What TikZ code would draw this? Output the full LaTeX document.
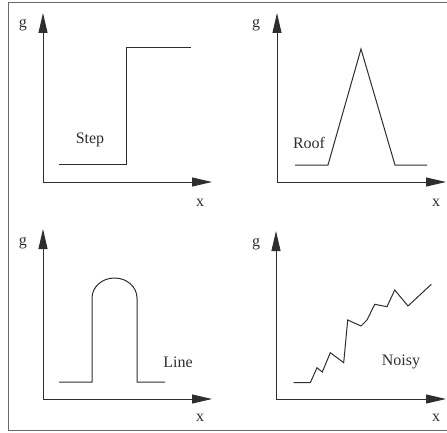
\documentclass[tikz,border=0pt]{standalone}
\usepackage{fontspec}
\setmainfont{Liberation Serif}
\usetikzlibrary{arrows.meta}
\definecolor{inkgray}{HTML}{2E2E2E}
\definecolor{framegray}{HTML}{6A6A6A}
\tikzset{
    axis/.style={draw=inkgray, line width=1pt, {Triangle[length=20pt,width=9pt]}-{Triangle[length=20pt,width=9pt]}},
    curve/.style={draw=inkgray, line width=1pt, line join=miter},
    lbl/.style={inner sep=0pt, text=inkgray, font=\fontsize{16}{19}\selectfont}
}
\begin{document}
\begin{tikzpicture}[x=1pt, y=1pt]
    \useasboundingbox (0,0) rectangle (447,432);
    % marco
    \draw[framegray, line width=1pt] (447,429) -- (8,429) -- (8,2) -- (447,2);

    % Step
    \begin{scope}[shift={(43,250)}]
        \coordinate (step-o) at (0,0);
        \coordinate (step-g) at (0,169); \coordinate (step-x) at (169,0);
        \draw[axis] (step-g) -- (step-o) -- (step-x);
        \node[lbl] (step-glbl) at (-20,157) {g};
        \node[lbl] (step-xlbl) at (157,-21) {x};
        \draw[curve] (16,18) -- (83,18) -- (83,134) -- (148,134);
        \node[lbl] (step-name) at (47,42) {Step};
    \end{scope}

    % Roof
    \begin{scope}[shift={(277,250)}]
        \coordinate (roof-o) at (0,0);
        \coordinate (roof-g) at (0,169); \coordinate (roof-x) at (169,0);
        \draw[axis] (roof-g) -- (roof-o) -- (roof-x);
        \node[lbl] (roof-glbl) at (-21,157) {g};
        \node[lbl] (roof-xlbl) at (159,-21) {x};
        \draw[curve] (18,17) -- (51,17) -- (84,133) -- (118,17) -- (150,17);
        \node[lbl] (roof-name) at (32,39) {Roof};
    \end{scope}

    % Line
    \begin{scope}[shift={(43,33)}]
        \coordinate (line-o) at (0,0);
        \coordinate (line-g) at (0,170); \coordinate (line-x) at (169,0);
        \draw[axis] (line-g) -- (line-o) -- (line-x);
        \node[lbl] (line-glbl) at (-20,156) {g};
        \node[lbl] (line-xlbl) at (157,-19) {x};
        \draw[curve] (16,17) -- (49,17) -- (49,101)
            arc[start angle=180, end angle=0, x radius=22.5, y radius=20]
            -- (94,17) -- (122,17);
        \node[lbl] (line-name) at (135,37) {Line};
    \end{scope}

    % Noisy
    \begin{scope}[shift={(276,33)}]
        \coordinate (noisy-o) at (0,0);
        \coordinate (noisy-g) at (0,168); \coordinate (noisy-x) at (170,0);
        \draw[axis] (noisy-g) -- (noisy-o) -- (noisy-x);
        \node[lbl] (noisy-glbl) at (-20,155) {g};
        \node[lbl] (noisy-xlbl) at (160,-19) {x};
        \draw[curve] (17.7,16.3) -- (34.3,16.3) -- (41,31.3) -- (46.3,27) -- (54.3,46.3)
            -- (67.7,36.3) -- (71.7,79) -- (85,73) -- (91,79) -- (98.7,94.7)
            -- (111,92.3) -- (118.7,109) -- (132,93) -- (155.3,114.7);
        \node[lbl] (noisy-name) at (125,37) {Noisy};
    \end{scope}
\end{tikzpicture}
\end{document}
